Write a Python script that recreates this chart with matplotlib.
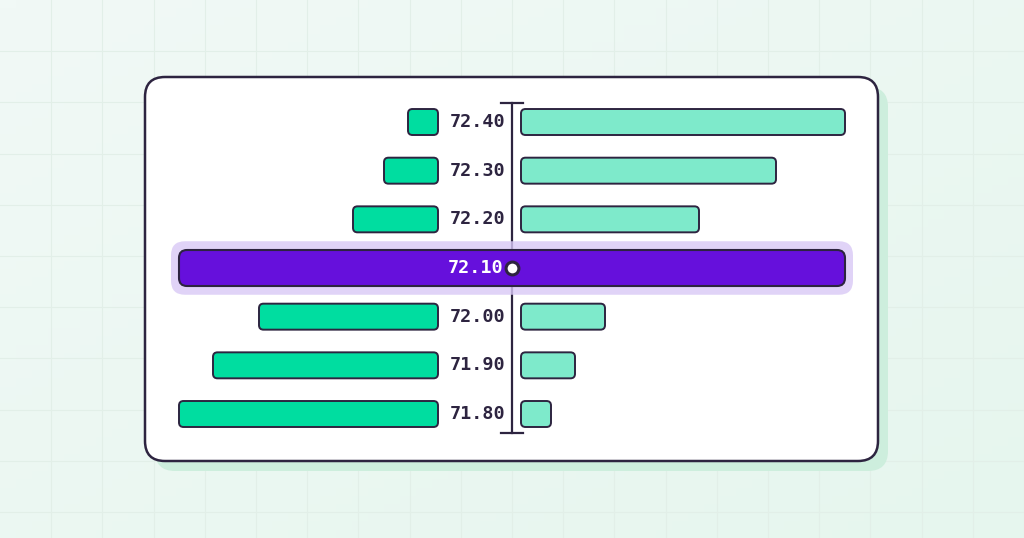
import matplotlib
matplotlib.use('Agg')
import matplotlib.pyplot as plt
import numpy as np
from matplotlib.patches import FancyBboxPatch

# order book levels, top to bottom
prices = ['72.40', '72.30', '72.20', '72.10', '72.00', '71.90', '71.80']
bids = [3.0, 5.4, 8.5, 0.0, 17.9, 22.5, 25.9]     # left side
asks = [32.4, 25.5, 17.8, 0.0, 8.4, 5.4, 3.0]     # right side
mid = 3                                           # current price row

dark = '#2d2440'
bid_col = '#00dda0'
ask_col = '#7eeacb'
purple = '#6610dc'

fig = plt.figure(figsize=(10.24, 5.38), dpi=100)

# background in pixel coords
bg = fig.add_axes([0, 0, 1, 1])
bg.set_xlim(0, 1024)
bg.set_ylim(538, 0)
bg.axis('off')
gx, gy = np.meshgrid(np.linspace(0, 1, 64), np.linspace(0, 1, 64))
grad = (gx + gy) / 2
c0 = np.array([0xf1, 0xf9, 0xf6]) / 255
c1 = np.array([0xe6, 0xf6, 0xee]) / 255
img = c0[None, None, :] * (1 - grad[..., None]) + c1[None, None, :] * grad[..., None]
bg.imshow(img, extent=[0, 1024, 538, 0], aspect='auto', zorder=0)
for k in range(1, 21):
    bg.axvline(k * 51.2, color='#e2efe8', lw=0.8, zorder=1)
for k in range(1, 11):
    bg.axhline(k * 51.2, color='#e2efe8', lw=0.8, zorder=1)

# card + shadow
bg.add_patch(FancyBboxPatch((155, 87), 733, 384, boxstyle='round,pad=0,rounding_size=20',
                            fc='#cdeedd', ec='none', zorder=2))
bg.add_patch(FancyBboxPatch((145, 77), 733, 384, boxstyle='round,pad=0,rounding_size=20',
                            fc='white', ec=dark, lw=1.8, zorder=3))

# data axes: 1 x-unit = 10 px, rows every ~48.7 px
ax = fig.add_axes([0, 0, 1, 1])
ax.patch.set_alpha(0)
ax.axis('off')
ax.set_xlim(-51.2, 51.2)
ax.set_ylim(8.548, -2.507)
asp = 10 / 48.67
gap_l = 7.4
gap_r = 0.9
h = 0.534

# centre axis line with caps
ax.plot([0, 0], [-0.39, 6.39], color=dark, lw=1.6, zorder=1)
ax.plot([-1.1, 1.1], [-0.39, -0.39], color=dark, lw=1.6, zorder=1)
ax.plot([-1.1, 1.1], [6.39, 6.39], color=dark, lw=1.6, zorder=1)

for i, p in enumerate(prices):
    if i == mid:
        continue
    ax.add_patch(FancyBboxPatch((-gap_l - bids[i], i - h / 2), bids[i], h,
                                boxstyle='round,pad=0,rounding_size=0.45', mutation_aspect=asp,
                                fc=bid_col, ec=dark, lw=1.4, zorder=3))
    ax.add_patch(FancyBboxPatch((gap_r, i - h / 2), asks[i], h,
                                boxstyle='round,pad=0,rounding_size=0.45', mutation_aspect=asp,
                                fc=ask_col, ec=dark, lw=1.4, zorder=3))
    ax.text(-0.7, i, p, ha='right', va='center', family='DejaVu Sans Mono',
            weight='bold', size=13.3, color=dark, zorder=4)

# highlighted current price
x0 = -gap_l - max(bids)
x1 = gap_r + max(asks)
hm = 0.74
ax.add_patch(FancyBboxPatch((x0 - 0.8, mid - hm / 2 - 0.18), x1 - x0 + 1.6, hm + 0.36,
                            boxstyle='round,pad=0,rounding_size=1.4', mutation_aspect=asp,
                            fc='#d9c9f6', ec='none', alpha=0.8, zorder=2))
ax.add_patch(FancyBboxPatch((x0, mid - hm / 2), x1 - x0, hm,
                            boxstyle='round,pad=0,rounding_size=0.8', mutation_aspect=asp,
                            fc=purple, ec=dark, lw=1.5, zorder=3))
ax.text(-0.9, mid, prices[mid], ha='right', va='center', family='DejaVu Sans Mono',
        weight='bold', size=13.3, color='white', zorder=4)
ax.scatter([0], [mid], s=85, fc='white', ec=dark, lw=2.2, zorder=5)

fig.savefig('out.png', dpi=100)
